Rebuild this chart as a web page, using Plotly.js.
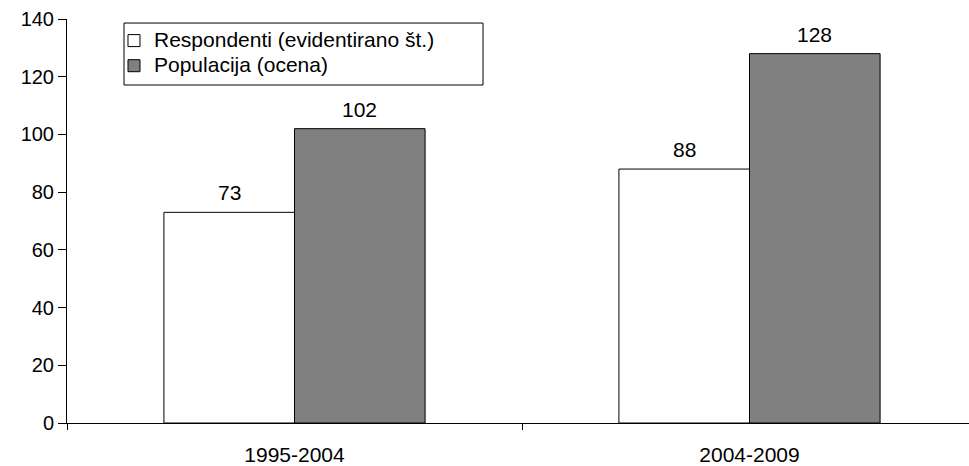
<!DOCTYPE html>
<html>
<head>
<meta charset="utf-8">
<script src="https://cdn.plot.ly/plotly-3.0.1.min.js"></script>
<style>html,body{margin:0;padding:0;background:#fff;}#chart{width:969px;height:466px;}</style>
</head>
<body>
<div id="chart"></div>
<script>
var categories = ['1995-2004', '2004-2009'];
var seriesNames = ['Respondenti (evidentirano št.)', 'Populacija (ocena)'];
var respondenti = [73, 88];
var populacija = [102, 128];
var yTicks = [0, 20, 40, 60, 80, 100, 120, 140];

var FAMILY = 'Liberation Sans, Arial, sans-serif';
var font20 = {family: FAMILY, size: 20, color: '#000'};
var font21 = {family: FAMILY, size: 21, color: '#000'};
var BARGAP = 0.426;

var series = [respondenti, populacija];
var colors = ['#ffffff', '#808080'];

var traces = series.map(function (vals, i) {
  return {type: 'bar', name: '<span style="font-size:21px">' + seriesNames[i] + '</span>',
          x: categories, y: vals,
          marker: {color: colors[i], line: {color: '#000', width: 1}},
          hoverinfo: 'none'};
});

// value labels above bars (positions follow the grouped bar layout)
var half = (1 - BARGAP) / 4;
var annotations = [];
series.forEach(function (vals, i) {
  vals.forEach(function (v, j) {
    annotations.push({xref: 'x', yref: 'y', x: j + (i === 0 ? -half : half), y: v,
                      text: String(v), showarrow: false, yanchor: 'bottom', yshift: 6,
                      font: font21});
  });
});

var layout = {
  width: 969, height: 466,
  margin: {l: 67, r: 0, t: 19, b: 43, pad: 0},
  paper_bgcolor: '#fff', plot_bgcolor: '#fff',
  font: font20,
  barmode: 'group', bargap: BARGAP, bargroupgap: 0,
  showlegend: true,
  legend: {x: 0.0521, y: 0.99, xanchor: 'left', yanchor: 'top',
           borderwidth: 0, bgcolor: 'rgba(0,0,0,0)',
           font: {family: FAMILY, size: 17, color: '#000'}, tracegroupgap: 0, itemwidth: 30},
  shapes: [{type: 'rect', xref: 'paper', yref: 'paper', x0: 0.0632, x1: 0.4612, y0: 0.8366, y1: 0.990,
            line: {color: '#000', width: 1}, fillcolor: '#fff', layer: 'below'}],
  annotations: annotations,
  xaxis: {type: 'category', range: [-0.5, 1.4824], showline: true, linecolor: '#000', linewidth: 1,
          ticks: 'outside', tickson: 'boundaries', ticklen: 6, tickcolor: '#000',
          showgrid: false, zeroline: false, tickfont: font21, fixedrange: true, ticklabelstandoff: 13},
  yaxis: {range: [0, 140], tickvals: yTicks, showline: true, linecolor: '#000', linewidth: 1,
          ticks: 'outside', ticklen: 8, tickcolor: '#000', showgrid: false, zeroline: false,
          tickfont: font20, fixedrange: true, ticklabelstandoff: 0}
};

Plotly.newPlot('chart', traces, layout, {staticPlot: true});
</script>
</body>
</html>
